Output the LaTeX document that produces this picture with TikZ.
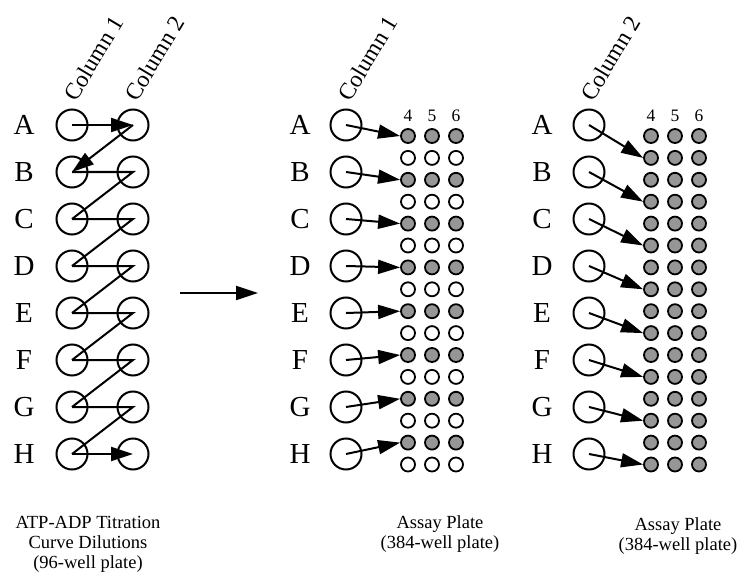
\documentclass[tikz,border=0pt]{standalone}
\usepackage{fontspec}
\setmainfont{Liberation Serif}
\usetikzlibrary{arrows.meta}
\definecolor{wellgray}{RGB}{150,150,150}
\tikzset{
  bigwell/.style={circle, draw, line width=2pt, minimum size=31pt, inner sep=0pt},
  smallwell/.style={circle, draw, line width=1.8pt, minimum size=14pt, inner sep=0pt},
  fullwell/.style={smallwell, fill=wellgray},
  openwell/.style={smallwell, fill=white},
  conn/.style={line width=2pt},
  bigtip/.style={-{Triangle[length=22pt,width=14pt]}},
  rowlab/.style={font=\fontsize{29}{32}\selectfont, anchor=base, inner sep=0pt},
  collab/.style={font=\fontsize{23.5}{26}\selectfont, rotate=59, anchor=base west, inner sep=0pt},
  numlab/.style={font=\fontsize{17.5}{20}\selectfont, anchor=base, inner sep=0pt},
  caption/.style={font=\fontsize{18.5}{20}\selectfont, align=center, anchor=north, inner sep=0pt}
}
\begin{document}
\begin{tikzpicture}[x=1pt,y=-1pt]
\useasboundingbox (0,0) rectangle (739,575);
% column labels
\node[collab] (cl1) at (76,103) {Column 1};
\node[collab] (cl2) at (137,103) {Column 2};
\node[collab] (cm1) at (350,103) {Column 1};
\node[collab] (cr2) at (593,103) {Column 2};
% well numbers
\foreach \c/\xm/\xr in {4/408/651,5/432/675,6/456/699}{
  \node[numlab] (nm\c) at (\xm,122) {\c};
  \node[numlab] (nr\c) at (\xr,122) {\c};
}
% 384-well wells
\foreach \c/\xm/\xr in {4/408/651,5/432/675,6/456/699}{
  \foreach \k in {0,...,15}{
    \ifodd\k \def\st{openwell}\else\def\st{fullwell}\fi
    \node[\st] (m\c-\k) at (\xm,136+21.9*\k) {};
    \node[fullwell] (r\c-\k) at (\xr,136+21.9*\k) {};
  }
}
% rows
\foreach \r [count=\i from 0] in {A,B,C,D,E,F,G,H}{
  \node[rowlab] (la\r) at (24,125+47*\i+9.5) {\r};
  \node[rowlab] (ma\r) at (300,125+47*\i+9.5) {\r};
  \node[rowlab] (ra\r) at (542,125+47*\i+9.5) {\r};
  \node[bigwell] (l1\r) at (72,125+47*\i) {};
  \node[bigwell] (l2\r) at (133,125+47*\i) {};
  \node[bigwell] (mb\r) at (346,125+47*\i) {};
  \node[bigwell] (rb\r) at (589,125+47*\i) {};
}
% left zigzag
\draw[conn,bigtip] (l1A.center) -- (l2A.center);
\draw[conn,bigtip] (l2A.center) -- (l1B.center);
\foreach \r/\n in {B/C,C/D,D/E,E/F,F/G,G/H}{
  \draw[conn] (l1\r.center) -- (l2\r.center) -- (l1\n.center);
}
\draw[conn,bigtip] (l1H.center) -- (l2H.center);
% transfer arrows
\foreach \r [count=\i from 0] in {A,B,C,D,E,F,G,H}{
  \pgfmathtruncatemacro\km{2*\i}
  \pgfmathtruncatemacro\kr{2*\i+1}
  \draw[conn,bigtip] (mb\r.center) -- (m4-\km.west);
  \draw[conn,bigtip] (rb\r.center) -- (r4-\kr.west);
}
% middle arrow
\coordinate (ms) at (180,293);
\coordinate (me) at (258,293);
\draw[conn,bigtip] (ms) -- (me);
% captions
\node[caption] (capl) at (88,516) {ATP-ADP Titration\\Curve Dilutions\\(96-well plate)};
\node[caption] (capm) at (440,515) {Assay Plate\\(384-well plate)};
\node[caption] (capr) at (678,517) {Assay Plate\\(384-well plate)};
\end{tikzpicture}
\end{document}
